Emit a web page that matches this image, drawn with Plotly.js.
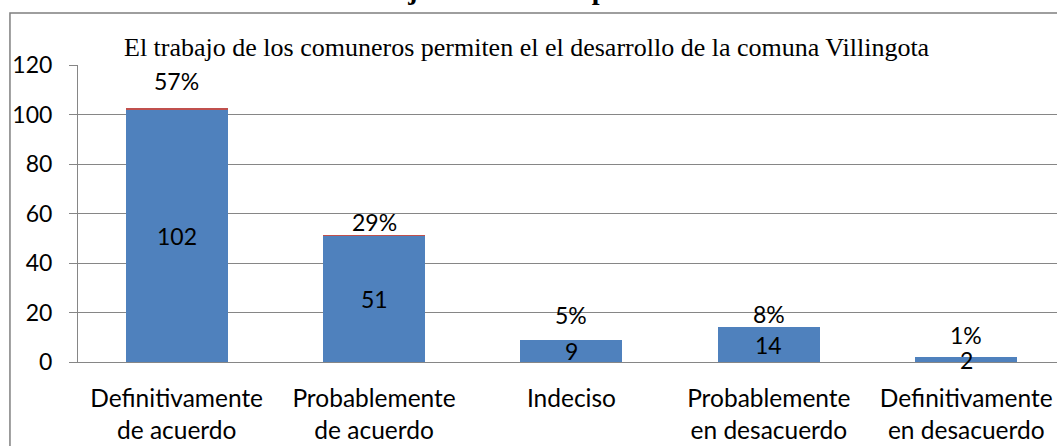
<!DOCTYPE html>
<html>
<head>
<meta charset="utf-8">
<script src="https://cdn.plot.ly/plotly-3.0.1.min.js"></script>
<style>html,body{margin:0;padding:0;background:#fff;}#chart{width:1057px;height:446px;}</style>
</head>
<body>
<div id="chart"></div>
<script>
const categories = ["Definitivamente<br>de acuerdo", "Probablemente<br>de acuerdo", "Indeciso", "Probablemente<br>en desacuerdo", "Definitivamente<br>en desacuerdo"];
const counts = [102, 51, 9, 14, 2];
const percents = [57, 29, 5, 8, 1];
const yTicks = [0, 20, 40, 60, 80, 100, 120];
const chartTitle = "El trabajo de los comuneros permiten el el desarrollo de la comuna Villingota";
const figureTitle = "GRÁFICO N° 11: El trabajo comunitario permite el desarrollo del sector";

// label offsets (pixels above bar top) mimicking the original placement
const pctShift = [27, 13, 25, 13, 22];

const labelFont = {family: "Lato, 'Open Sans', sans-serif", size: 23, color: "#000"};
const catFont = {family: "Lato, 'Open Sans', sans-serif", size: 24.5, color: "#000"};
const pctFrac = percents.map(p => p / 100);

const annotations = [];
categories.forEach((c, i) => {
  annotations.push({x: c, y: counts[i] / 2, xref: "x", yref: "y", text: String(counts[i]),
    showarrow: false, font: labelFont, yanchor: "middle"});
  annotations.push({x: c, y: counts[i] + pctFrac[i], xref: "x", yref: "y", text: percents[i] + "%",
    showarrow: false, font: labelFont, yanchor: "middle", yshift: pctShift[i]});
});
annotations.push({x: 0.4586, y: 1.06, xref: "paper", yref: "paper", text: chartTitle, showarrow: false,
  font: {family: "'Liberation Serif', 'Times New Roman', serif", size: 26, color: "#000"}, yanchor: "middle"});
annotations.push({x: 0.4566, y: 1.255, xref: "paper", yref: "paper", text: "<b>" + figureTitle + "</b>", showarrow: false,
  font: {family: "'Liberation Serif', 'Times New Roman', serif", size: 28, color: "#000"}, yanchor: "middle"});

const traces = [
  {type: "bar", x: categories, y: counts, marker: {color: "#4F81BD"}, hoverinfo: "skip", name: "Frecuencia"},
  {type: "bar", x: categories, y: pctFrac, marker: {color: "#C0504D"}, hoverinfo: "skip", name: "Porcentaje"}
];

const layout = {
  width: 1057, height: 446,
  margin: {l: 78, r: 0, t: 65, b: 84, pad: 0},
  paper_bgcolor: "#fff", plot_bgcolor: "#fff",
  barmode: "stack", bargap: 0.483,
  showlegend: false,
  xaxis: {type: "category", range: [-0.5, 4.46], showgrid: false, showline: true, linecolor: "#868686", linewidth: 1,
    ticks: "", tickfont: catFont, ticklabelstandoff: 15, fixedrange: true},
  yaxis: {range: [0, 120], tickvals: yTicks, showgrid: true, gridcolor: "#868686", gridwidth: 1, zeroline: false,
    showline: true, linecolor: "#868686", linewidth: 1, ticks: "outside", ticklen: 8, tickcolor: "#868686",
    tickfont: labelFont, ticklabelstandoff: 12, fixedrange: true},
  annotations: annotations,
  shapes: [{type: "rect", xref: "paper", yref: "paper", x0: -0.0695, x1: 1.2, y0: -0.6, y1: 1.175,
    line: {color: "#7f7f7f", width: 1.5}, fillcolor: "rgba(0,0,0,0)", layer: "below"}]
};

Plotly.newPlot("chart", traces, layout, {displayModeBar: false, staticPlot: true});
</script>
</body>
</html>
